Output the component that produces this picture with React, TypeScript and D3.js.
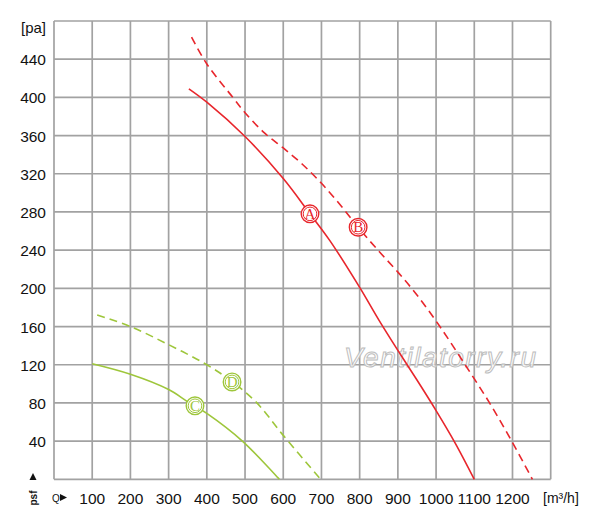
import { useEffect, useRef } from "react"
import * as d3 from "d3"

// flow Q [m3/h] and static pressure [pa]
const curveA = [
  [353, 409], [400, 395], [500, 359], [600, 315], [670, 278], [722, 250], [800, 201],
  [850, 167], [900, 135], [950, 104], [1000, 72], [1050, 38], [1100, 0],
]
const curveB = [
  [360, 463], [400, 435], [468, 400], [500, 384], [550, 363], [600, 347], [650, 330],
  [700, 310], [750, 287], [800, 262], [850, 239], [900, 217], [950, 193], [1010, 160],
  [1076, 120], [1140, 80], [1198, 40], [1252, 0],
]
const curveC = [[100, 121], [200, 110], [300, 94], [351, 81], [400, 69], [493, 40], [590, 0]]
const curveD = [[113, 172], [200, 160], [300, 141], [400, 120], [467, 102], [531, 80], [600, 46], [698, 0]]

const series = [
  { key: "A", data: curveA, color: "#e8262c", dashed: false, mark: [670, 278] },
  { key: "B", data: curveB, color: "#e8262c", dashed: true, mark: [796, 264] },
  { key: "C", data: curveC, color: "#9ec63b", dashed: false, mark: [369, 77] },
  { key: "D", data: curveD, color: "#9ec63b", dashed: true, mark: [466, 102] },
]

const xTicks = [100, 200, 300, 400, 500, 600, 700, 800, 900, 1000, 1100, 1200]
const yTicks = [40, 80, 120, 160, 200, 240, 280, 320, 360, 400, 440]

export default function App() {
  const svgRef = useRef<SVGSVGElement>(null)

  useEffect(() => {
    if (!svgRef.current) return
    const svg = d3.select(svgRef.current)
    svg.selectAll("*").remove()

    const x = d3.scaleLinear().domain([0, 1300]).range([54, 550.7])
    const y = d3.scaleLinear().domain([0, 480]).range([479.3, 21])
    const font = "'Liberation Sans', Arial, sans-serif"

    svg.append("rect").attr("width", 600).attr("height", 519).attr("fill", "#fff")

    // grid
    const grid = svg.append("g").attr("stroke", "#a2a2a2").attr("stroke-width", 1.7)
    grid.selectAll("line.v")
      .data(d3.range(0, 1301, 100))
      .enter()
      .append("line")
      .attr("x1", (d) => x(d))
      .attr("x2", (d) => x(d))
      .attr("y1", y(0))
      .attr("y2", y(480))
    grid.selectAll("line.h")
      .data(d3.range(0, 481, 40))
      .enter()
      .append("line")
      .attr("x1", x(0))
      .attr("x2", x(1300))
      .attr("y1", (d) => y(d))
      .attr("y2", (d) => y(d))

    // y labels
    svg.append("g")
      .selectAll("text")
      .data(yTicks)
      .enter()
      .append("text")
      .attr("x", 46)
      .attr("y", (d) => y(d) + 6)
      .attr("text-anchor", "end")
      .attr("font-family", font)
      .attr("font-size", 15.5)
      .attr("fill", "#111")
      .text((d) => d)
    svg.append("text")
      .attr("x", 46)
      .attr("y", 33)
      .attr("text-anchor", "end")
      .attr("font-family", font)
      .attr("font-size", 15)
      .attr("fill", "#111")
      .text("[pa]")

    // x labels
    svg.append("g")
      .selectAll("text")
      .data(xTicks)
      .enter()
      .append("text")
      .attr("x", (d) => x(d))
      .attr("y", 504)
      .attr("text-anchor", "middle")
      .attr("font-family", font)
      .attr("font-size", 15.5)
      .attr("fill", "#111")
      .text((d) => d)
    svg.append("text")
      .attr("x", 543)
      .attr("y", 503)
      .attr("font-family", font)
      .attr("font-size", 14)
      .attr("fill", "#111")
      .text("[m³/h]")

    // small axis symbols bottom-left
    svg.append("text")
      .attr("x", 52)
      .attr("y", 502)
      .attr("font-family", font)
      .attr("font-size", 10)
      .attr("fill", "#111")
      .text("Q")
    svg.append("path").attr("d", "M60,494 L67,497.5 L60,501 Z").attr("fill", "#111")
    svg.append("text")
      .attr("transform", "translate(37,498) rotate(-90)")
      .attr("text-anchor", "middle")
      .attr("font-family", font)
      .attr("font-size", 10)
      .attr("font-weight", "bold")
      .attr("fill", "#111")
      .text("psf")
    svg.append("path").attr("d", "M29.5,480 L33,473 L36.5,480 Z").attr("fill", "#111")

    // watermark
    svg.append("text")
      .attr("x", 440)
      .attr("y", 367)
      .attr("text-anchor", "middle")
      .attr("font-family", font)
      .attr("font-style", "italic")
      .attr("font-size", 28)
      .attr("textLength", 192)
      .attr("fill", "#fff")
      .attr("fill-opacity", 0.85)
      .attr("stroke", "#bdbdbd")
      .attr("stroke-width", 1)
      .text("Ventilatorry.ru")

    // curves
    const line = d3
      .line<number[]>()
      .x((d) => x(d[0]))
      .y((d) => y(d[1]))
      .curve(d3.curveCatmullRom.alpha(0.5))

    series.forEach((s) => {
      svg.append("path")
        .attr("d", line(s.data))
        .attr("fill", "none")
        .attr("stroke", s.color)
        .attr("stroke-width", 1.6)
        .attr("stroke-dasharray", s.dashed ? "8,5" : null)
    })

    // circled letter markers
    series.forEach((s) => {
      const g = svg.append("g").attr("transform", `translate(${x(s.mark[0])},${y(s.mark[1])})`)
      g.append("circle").attr("r", 8.8).attr("fill", "#fff").attr("stroke", s.color).attr("stroke-width", 1.4)
      g.append("circle").attr("r", 6.8).attr("fill", "none").attr("stroke", s.color).attr("stroke-width", 1)
      g.append("text")
        .attr("y", 5.2)
        .attr("text-anchor", "middle")
        .attr("font-family", "'Liberation Serif', 'Times New Roman', serif")
        .attr("font-size", 15)
        .attr("fill", s.color)
        .text(s.key)
    })
  }, [])

  return <svg ref={svgRef} width={600} height={519} style={{ position: "absolute", left: 0, top: 0 }} />
}
